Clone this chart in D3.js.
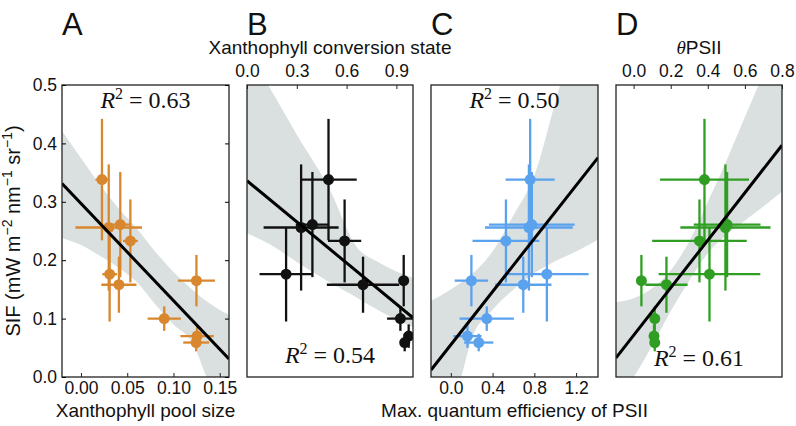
<!DOCTYPE html>
<html lang="en">

<head>
    <meta charset="UTF-8">
    <title>SIF against xanthophyll and PSII measures</title>
    <script src="https://d3js.org/d3.v7.min.js"></script>
    <style>
        body {
            margin: 0;
            background: white;
        }

        svg text {
            font-family: "Liberation Sans", Arial, sans-serif;
            fill: #111;
        }

        .r2 {
            font-family: "Liberation Serif", "Times New Roman", serif !important;
        }

        .tick text {
            font-size: 17.5px;
        }
    </style>
</head>

<body>
    <div id="chart"></div>

    <script>
        // SIF for the ten sites, shared by all four panels
        const sif = [0.338, 0.256, 0.261, 0.233, 0.176, 0.158, 0.165, 0.100, 0.070, 0.059];
        const sifErr = [0.104, 0.108, 0.090, 0.071, 0.081, 0.048, 0.044, 0.021, 0.020, 0.015];
        const sifTicks = [0, 0.1, 0.2, 0.3, 0.4, 0.5];

        // A: xanthophyll pool size
        const poolSize = [0.0227, 0.030, 0.0425, 0.0534, 0.031, 0.041, 0.1248, 0.090, 0.1255, 0.1245];
        const poolSizeErr = [0.007, 0.036, 0.010, 0.008, 0.008, 0.019, 0.020, 0.018, 0.018, 0.014];
        const ticksA = [0, 0.05, 0.10, 0.15];
        const fitA = [0.2972, -1.664]; // intercept, slope
        const bandXA = [-0.02, 0, 0.02, 0.04, 0.06, 0.08, 0.10, 0.12, 0.14, 0.16];
        const bandLoA = [0.2375, 0.226, 0.208, 0.188, 0.163, 0.125, 0.09, 0.06, -0.015, -0.06];
        const bandHiA = [0.42, 0.375, 0.33, 0.29, 0.255, 0.215, 0.18, 0.15, 0.125, 0.106];

        // B: xanthophyll conversion state
        const conversion = [0.491, 0.326, 0.394, 0.588, 0.2355, 0.699, 0.944, 0.924, 0.974, 0.95];
        const conversionErr = [0.17, 0.226, 0.10, 0.10, 0.16, 0.218, 0.03, 0.08, 0.02, 0.02];
        const ticksB = [0, 0.3, 0.6, 0.9];
        const fitB = [0.336, -0.2345];
        const bandXB = [0, 0.127, 0.3, 0.5, 0.65, 0.8, 1.0];
        const bandLoB = [0.246, 0.229, 0.197, 0.162, 0.138, 0.113, 0.085];
        const bandHiB = [0.56, 0.50, 0.415, 0.32, 0.227, 0.195, 0.17];

        // C: max. quantum efficiency of PSII
        const fvfm = [0.760, 0.748, 0.776, 0.528, 0.92, 0.694, 0.197, 0.344, 0.159, 0.267];
        const fvfmErr = [0.235, 0.42, 0.41, 0.32, 0.40, 0.27, 0.16, 0.26, 0.135, 0.14];
        const ticksC = [0, 0.4, 0.8, 1.2];
        const fitC = [0.0552, 0.2273];
        const bandXC = [-0.19, 0.0, 0.1, 0.2, 0.4, 0.6, 0.8, 1.0, 1.2, 1.41];
        const bandLoC = [-0.17, -0.06, 0.0, 0.065, 0.115, 0.15, 0.178, 0.198, 0.215, 0.235];
        const bandHiC = [0.130, 0.150, 0.162, 0.176, 0.215, 0.277, 0.345, 0.47, 0.60, 0.75];

        // D: theta PSII
        const thetaPSII = [0.382, 0.495, 0.504, 0.355, 0.409, 0.177, 0.042, 0.114, 0.11, 0.114];
        const thetaPSIIErr = [0.24, 0.243, 0.18, 0.255, 0.274, 0.114, 0.02, 0.015, 0.01, 0.01];
        const ticksD = [0, 0.2, 0.4, 0.6, 0.8];
        const fitD = [0.0713, 0.407];
        const bandXD = [-0.095, 0.0, 0.1, 0.2, 0.3, 0.4, 0.5, 0.6, 0.7, 0.8];
        const bandLoD = [-0.04, 0.0, 0.054, 0.113, 0.165, 0.212, 0.243, 0.268, 0.292, 0.317];
        const bandHiD = [0.128, 0.135, 0.152, 0.183, 0.232, 0.300, 0.37, 0.445, 0.52, 0.60];

        const r2Values = ["0.63", "0.54", "0.50", "0.61"];

        // layout
        const width = 796, height = 426;
        const plotTop = 85, plotBottom = 377;
        const bandColor = "#dadfdf";

        const panels = [
            { letter: "A", left: 62, right: 229, x: poolSize, xErr: poolSizeErr, domain: [-0.0205, 0.16],
              ticks: ticksA, fmt: ".2f", side: "bottom", color: "#d9872e",
              bandX: bandXA, bandLo: bandLoA, bandHi: bandHiA, fit: fitA, r2: r2Values[0], r2Y: 108 },
            { letter: "B", left: 247, right: 413, x: conversion, xErr: conversionErr, domain: [0, 1.0],
              ticks: ticksB, fmt: ".1f", side: "top", color: "#111111",
              bandX: bandXB, bandLo: bandLoB, bandHi: bandHiB, fit: fitB, r2: r2Values[1], r2Y: 363 },
            { letter: "C", left: 431, right: 598, x: fvfm, xErr: fvfmErr, domain: [-0.19, 1.41],
              ticks: ticksC, fmt: ".1f", side: "bottom", color: "#5aa2ee",
              bandX: bandXC, bandLo: bandLoC, bandHi: bandHiC, fit: fitC, r2: r2Values[2], r2Y: 108 },
            { letter: "D", left: 616, right: 782, x: thetaPSII, xErr: thetaPSIIErr, domain: [-0.095, 0.8],
              ticks: ticksD, fmt: ".1f", side: "top", color: "#2f9e22",
              bandX: bandXD, bandLo: bandLoD, bandHi: bandHiD, fit: fitD, r2: r2Values[3], r2Y: 366 }
        ];

        const svg = d3.select("#chart")
            .append("svg")
            .attr("width", width)
            .attr("height", height);

        const y = d3.scaleLinear().domain([0, 0.5]).range([plotBottom, plotTop]);

        panels.forEach(function (p, i) {
            const x = d3.scaleLinear().domain(p.domain).range([p.left, p.right]);
            const g = svg.append("g");

            svg.append("clipPath")
                .attr("id", "clip" + i)
                .append("rect")
                .attr("x", p.left)
                .attr("y", plotTop)
                .attr("width", p.right - p.left)
                .attr("height", plotBottom - plotTop);

            const inner = g.append("g").attr("clip-path", `url(#clip${i})`);

            // confidence band
            const area = d3.area()
                .x(d => x(d[0]))
                .y0(d => y(d[1]))
                .y1(d => y(d[2]))
                .curve(d3.curveMonotoneX);

            inner.append("path")
                .datum(d3.zip(p.bandX, p.bandLo, p.bandHi))
                .attr("d", area)
                .attr("fill", bandColor);

            const pts = d3.zip(p.x, p.xErr, sif, sifErr);

            // error bars
            inner.selectAll(".xerr")
                .data(pts)
                .join("line")
                .attr("x1", d => x(d[0] - d[1]))
                .attr("x2", d => x(d[0] + d[1]))
                .attr("y1", d => y(d[2]))
                .attr("y2", d => y(d[2]))
                .attr("stroke", p.color)
                .attr("stroke-width", 2.3);

            inner.selectAll(".yerr")
                .data(pts)
                .join("line")
                .attr("x1", d => x(d[0]))
                .attr("x2", d => x(d[0]))
                .attr("y1", d => y(d[2] - d[3]))
                .attr("y2", d => y(d[2] + d[3]))
                .attr("stroke", p.color)
                .attr("stroke-width", 2.3);

            // points
            inner.selectAll("circle")
                .data(pts)
                .join("circle")
                .attr("cx", d => x(d[0]))
                .attr("cy", d => y(d[2]))
                .attr("r", 5.5)
                .attr("fill", p.color);

            // regression line
            inner.append("line")
                .attr("x1", x(p.domain[0]))
                .attr("y1", y(p.fit[0] + p.fit[1] * p.domain[0]))
                .attr("x2", x(p.domain[1]))
                .attr("y2", y(p.fit[0] + p.fit[1] * p.domain[1]))
                .attr("stroke", "#000")
                .attr("stroke-width", 3);

            // frame
            g.append("rect")
                .attr("x", p.left)
                .attr("y", plotTop)
                .attr("width", p.right - p.left)
                .attr("height", plotBottom - plotTop)
                .attr("fill", "none")
                .attr("stroke", "#222")
                .attr("stroke-width", 1.3);

            // x axis, ticks pointing inward
            const axis = (p.side === "bottom" ? d3.axisBottom(x) : d3.axisTop(x))
                .tickValues(p.ticks)
                .tickFormat(d3.format(p.fmt))
                .tickSizeInner(-4)
                .tickSizeOuter(0)
                .tickPadding(p.side === "bottom" ? 5 : 8);

            const ax = g.append("g")
                .attr("transform", `translate(0,${p.side === "bottom" ? plotBottom : plotTop})`)
                .call(axis);
            ax.select(".domain").remove();
            ax.selectAll(".tick line").attr("stroke", "#222");

            // R^2 annotation
            const cx = (p.left + p.right) / 2;
            const t = g.append("text")
                .attr("class", "r2")
                .attr("x", cx)
                .attr("y", p.r2Y)
                .attr("text-anchor", "middle")
                .style("font-size", "24px");
            t.append("tspan").style("font-style", "italic").text("R");
            t.append("tspan").attr("dy", -9).style("font-size", "16px").text("2");
            t.append("tspan").attr("dy", 9).text(" = " + p.r2);

            // panel letter
            g.append("text")
                .attr("x", p.left)
                .attr("y", 35)
                .style("font-size", "31px")
                .text(p.letter);
        });

        // y axis only on panel A (left labels, ticks on both sides)
        const yAxis = svg.append("g")
            .attr("transform", `translate(${panels[0].left},0)`)
            .call(d3.axisLeft(y).tickValues(sifTicks).tickFormat(d3.format(".1f"))
                .tickSizeInner(-4).tickSizeOuter(0).tickPadding(5));
        yAxis.select(".domain").remove();

        const yAxisR = svg.append("g")
            .attr("transform", `translate(${panels[0].right},0)`)
            .call(d3.axisRight(y).tickValues(sifTicks).tickFormat("")
                .tickSizeInner(-4).tickSizeOuter(0));
        yAxisR.select(".domain").remove();

        // axis titles
        const mid = p => (p.left + p.right) / 2;

        svg.append("text")
            .attr("x", mid(panels[0]))
            .attr("y", 417)
            .attr("text-anchor", "middle")
            .style("font-size", "19px")
            .text("Xanthophyll pool size");

        svg.append("text")
            .attr("x", mid(panels[2]))
            .attr("y", 417)
            .attr("text-anchor", "middle")
            .style("font-size", "19px")
            .text("Max. quantum efficiency of PSII");

        svg.append("text")
            .attr("x", mid(panels[1]))
            .attr("y", 54)
            .attr("text-anchor", "middle")
            .style("font-size", "19px")
            .text("Xanthophyll conversion state");

        const theta = svg.append("text")
            .attr("x", mid(panels[3]))
            .attr("y", 54)
            .attr("text-anchor", "middle")
            .style("font-size", "19px");
        theta.append("tspan")
            .style("font-family", "'Liberation Serif', serif")
            .style("font-style", "italic")
            .text("\u03b8");
        theta.append("tspan").text("PSII");

        // rotated y label with superscripts
        const yl = svg.append("text")
            .attr("transform", `translate(20,${(plotTop + plotBottom) / 2}) rotate(-90)`)
            .attr("text-anchor", "middle")
            .style("font-size", "20px");
        yl.append("tspan").text("SIF (mW m");
        yl.append("tspan").attr("dy", -8).style("font-size", "14px").text("\u22122");
        yl.append("tspan").attr("dy", 8).text(" nm");
        yl.append("tspan").attr("dy", -8).style("font-size", "14px").text("\u22121");
        yl.append("tspan").attr("dy", 8).text(" sr");
        yl.append("tspan").attr("dy", -8).style("font-size", "14px").text("\u22121");
        yl.append("tspan").attr("dy", 8).text(")");
    </script>
</body>

</html>
